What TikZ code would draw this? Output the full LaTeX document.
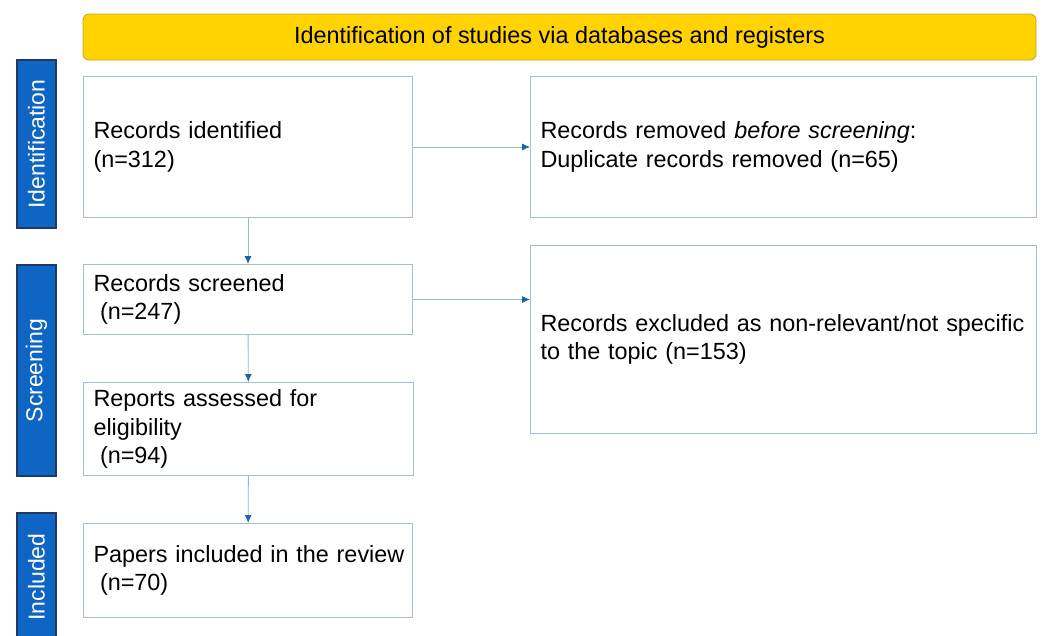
\documentclass[tikz,border=0pt]{standalone}
\usepackage{fontspec}
\setmainfont{Liberation Sans}
\usetikzlibrary{arrows.meta}

\definecolor{bannerfill}{HTML}{FFD200}
\definecolor{bannerline}{HTML}{BFA23A}
\definecolor{stagefill}{HTML}{0F65C3}
\definecolor{stageline}{HTML}{1F3864}
\definecolor{boxline}{HTML}{A6BECF}
\definecolor{flowline}{HTML}{9CB8CC}
\definecolor{tipblue}{HTML}{1765B0}

\tikzset{
  box/.style={draw=boxline, line width=1pt, anchor=north west, align=left,
    inner xsep=10pt, inner ysep=0pt,
    font=\fontsize{23.4}{28.5}\selectfont},
  stage/.style={draw=stageline, fill=stagefill, line width=2pt, rotate=90,
    minimum height=39pt, inner sep=0pt, text=white,
    font=\fontsize{23}{28}\selectfont},
  banner/.style={draw=bannerline, fill=bannerfill, line width=0.8pt,
    rounded corners=6pt, minimum width=953pt, minimum height=46pt,
    font=\fontsize{23.4}{28}\selectfont},
  flow/.style={draw=flowline, line width=0.9pt,
    -{Latex[length=8pt,width=7pt,color=tipblue]}},
}

\begin{document}
\begin{tikzpicture}[x=1pt,y=-1pt]
\clip (0,0) rectangle (1043,635);

% header
\node[banner] (title) at (559.5,37) {Identification of studies via databases and registers};

% stage bars on the left
\node[stage, minimum width=168pt] (identification) at (36.5,144) {Identification};
\node[stage, minimum width=211pt] (screening) at (36.5,370.5) {Screening};
\node[stage, minimum width=128pt] (included) at (36.5,577) {Included};

% left column
\node[box, text width=309pt, minimum height=141pt] (identified) at (83,76)
  {Records identified\\(n=312)};
\node[box, text width=309pt, minimum height=70pt] (screened) at (83,264)
  {Records screened\\\hspace*{6.5pt}(n=247)};
\node[box, text width=310pt, minimum height=93pt] (assessed) at (83,382)
  {Reports assessed for\\eligibility\\\hspace*{6.5pt}(n=94)};
\node[box, text width=309pt, minimum height=94pt] (papers) at (83,523)
  {\mbox{Papers included in the review}\\\hspace*{6.5pt}(n=70)};

% right column
\node[box, text width=486pt, minimum height=141pt] (removed) at (530,76)
  {Records removed \textit{before screening}:\\Duplicate records removed (n=65)};
\node[box, text width=486pt, minimum height=188pt] (excluded) at (530,245)
  {\mbox{Records excluded as non-relevant/not specific}\\to the topic (n=153)};

% connectors
\draw[flow] (identified) -- (screened);
\draw[flow] (screened) -- (assessed);
\draw[flow] (assessed) -- (papers);
\draw[flow] (identified.east) -- (removed.west);
\draw[flow] (screened.east) -- (screened.east -| excluded.west);
\end{tikzpicture}
\end{document}
